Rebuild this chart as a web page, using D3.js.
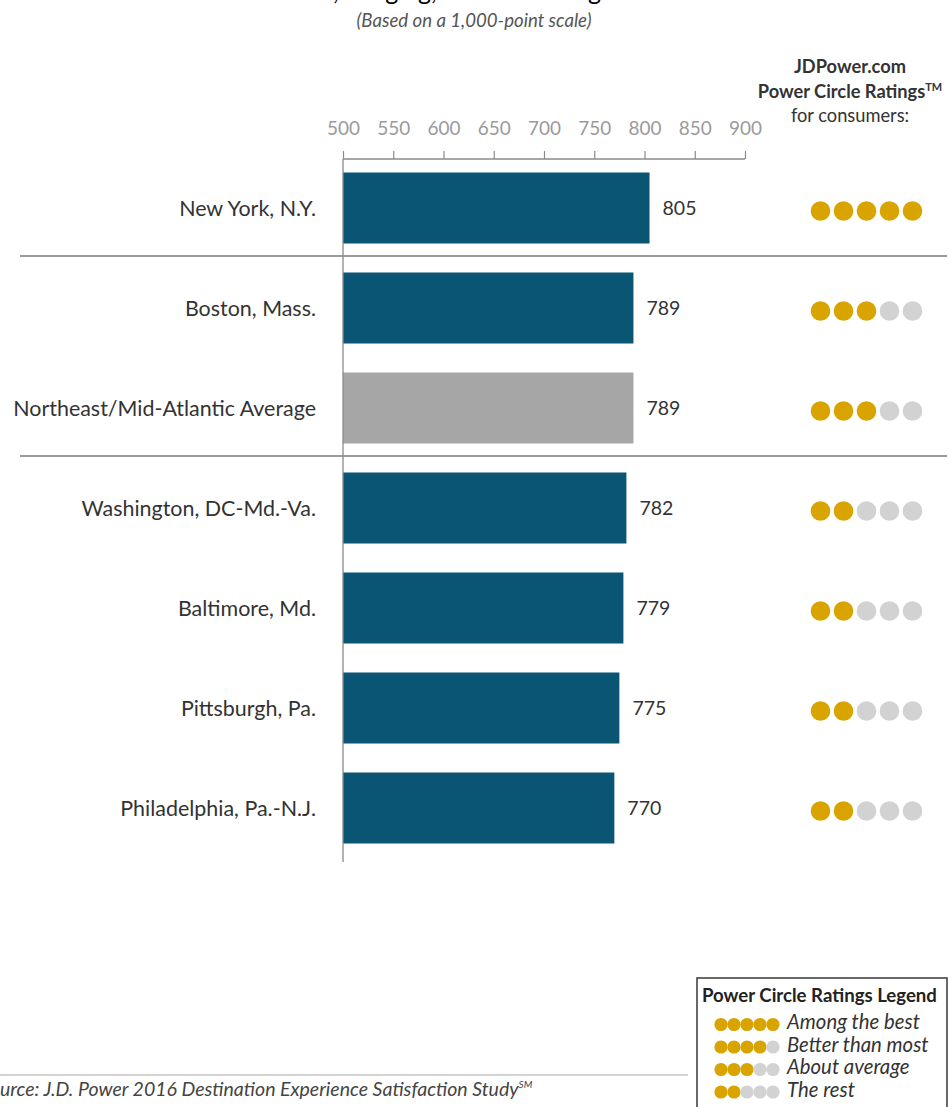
<!DOCTYPE html>
<html>
<head>
<meta charset="utf-8">
<script src="https://cdn.jsdelivr.net/npm/d3@7"></script>
<style>
  html, body { margin: 0; padding: 0; background: #fff; }
  svg { display: block; font-family: Lato, "Open Sans", sans-serif; }
</style>
</head>
<body>
<svg id="chart" width="949" height="1107"></svg>
<script>
// Destination satisfaction scores, Northeast/Mid-Atlantic
const categories = [
  "New York, N.Y.",
  "Boston, Mass.",
  "Northeast/Mid-Atlantic Average",
  "Washington, DC-Md.-Va.",
  "Baltimore, Md.",
  "Pittsburgh, Pa.",
  "Philadelphia, Pa.-N.J."
];
const scores = [805, 789, 789, 782, 779, 775, 770];
const circleRatings = [5, 3, 3, 2, 2, 2, 2];
const isAverage = [false, false, true, false, false, false, false];
const xTicks = [500, 550, 600, 650, 700, 750, 800, 850, 900];
const legendLabels = ["Among the best", "Better than most", "About average", "The rest"];
const legendRatings = [5, 4, 3, 2];

const BAR = "#0a5574", AVG = "#a6a6a6", GOLD = "#d9a300", DOT_OFF = "#d2d2d2";

const svg = d3.select("#chart");

// scale a text's font size so that the text spans the given width
function fitWidth(sel, width) {
  const node = sel.node();
  const size = parseFloat(sel.attr("font-size"));
  const len = node.getComputedTextLength();
  const s = size * width / len;
  sel.attr("font-size", s);
  return s;
}

const x = d3.scaleLinear().domain([500, 900]).range([343, 745]);
const y = d3.scaleBand().domain(categories).range([158, 858])
  .paddingInner(0.29).paddingOuter(0.145);

// title line, sitting above the top edge (only descenders show)
const titleText = "Overall Satisfaction, Lodging, Northeast Region";
const title = svg.append("text").attr("x", 0).attr("y", 0)
  .attr("font-size", 28).attr("fill", "#000").text(titleText);
{
  const n = title.node();
  const iComma = titleText.indexOf(",");
  const iG = titleText.lastIndexOf("g");
  let a = n.getSubStringLength(0, iComma);
  let b = n.getSubStringLength(0, iG);
  const size = 28 * 255 / (b - a);
  title.attr("font-size", size);
  a = n.getSubStringLength(0, iComma);
  title.attr("x", 333 - a);
}
const sub = svg.append("text").attr("x", 474).attr("y", 27).attr("text-anchor", "middle")
  .attr("font-size", 15).attr("font-style", "italic").attr("fill", "#555")
  .text("(Based on a 1,000-point scale)");
fitWidth(sub, 235);

// circle-ratings header
const hdr = svg.append("g").attr("text-anchor", "middle").attr("fill", "#333");
const h1 = hdr.append("text").attr("x", 850).attr("y", 73).attr("font-size", 16)
  .attr("font-weight", "bold").text("JDPower.com");
const hs = fitWidth(h1, 112);
const t2 = hdr.append("text").attr("x", 850).attr("y", 98).attr("font-size", hs).attr("font-weight", "bold");
t2.append("tspan").text("Power Circle Ratings");
t2.append("tspan").attr("font-size", hs * 0.6).attr("dy", -7).text("TM");
hdr.append("text").attr("x", 850).attr("y", 122).attr("font-size", hs).text("for consumers:");

// top axis
const axis = svg.append("g").attr("transform", "translate(0,159)")
  .call(d3.axisTop(x).tickValues(xTicks).tickSize(8).tickPadding(16));
axis.select(".domain").attr("stroke", "#8a8a8a").attr("stroke-width", 1.3)
  .attr("d", `M${x(500)},0H${x(900)}`);
axis.selectAll(".tick line").attr("stroke", "#8a8a8a").attr("stroke-width", 1.2);
axis.selectAll(".tick text").attr("fill", "#9a9a9a").attr("font-size", 16)
  .attr("font-family", "Lato, sans-serif");
const tickSize = fitWidth(axis.select(".tick text"), 33);
axis.selectAll(".tick text").attr("font-size", tickSize);

// group separators
[1, 3].forEach(i => {
  const yy = (y(categories[i - 1]) + y.bandwidth() + y(categories[i])) / 2 - 2;
  svg.append("line").attr("x1", 20).attr("x2", 947).attr("y1", yy).attr("y2", yy)
    .attr("stroke", "#7a7a7a").attr("stroke-width", 1.5);
});

// bars
const rows = svg.append("g").selectAll("g").data(categories).join("g");
rows.append("rect")
  .attr("x", x(500)).attr("y", d => y(d))
  .attr("width", (d, i) => x(scores[i]) - x(500))
  .attr("height", y.bandwidth())
  .attr("fill", (d, i) => isAverage[i] ? AVG : BAR);

// baseline
svg.append("line").attr("x1", x(500)).attr("x2", x(500)).attr("y1", 159).attr("y2", 862)
  .attr("stroke", "#8a8a8a").attr("stroke-width", 1.3);

// category labels
const catLabels = rows.append("text")
  .attr("x", 316).attr("y", d => y(d) + y.bandwidth() / 2 + 8)
  .attr("text-anchor", "end").attr("font-size", 20).attr("fill", "#333")
  .text(d => d);
const catSize = fitWidth(catLabels.filter((d, i) => isAverage[i]), 303);
catLabels.attr("font-size", catSize);

// value labels
const valLabels = rows.append("text")
  .attr("x", (d, i) => x(scores[i]) + 13).attr("y", d => y(d) + y.bandwidth() / 2 + 7)
  .attr("font-size", 18).attr("fill", "#333")
  .text((d, i) => scores[i]);
const valSize = fitWidth(valLabels.filter((d, i) => i === 0), 34);
valLabels.attr("font-size", valSize);

// power circles per row
const dotX = d3.scaleLinear().domain([0, 4]).range([820.5, 912.5]);
rows.each(function (d, i) {
  d3.select(this).selectAll("circle").data(d3.range(5)).join("circle")
    .attr("cx", k => dotX(k)).attr("cy", y(d) + y.bandwidth() / 2 + 3)
    .attr("r", 9.8)
    .attr("fill", k => k < circleRatings[i] ? GOLD : DOT_OFF);
});

// source note
svg.append("line").attr("x1", 0).attr("x2", 688).attr("y1", 1075).attr("y2", 1075)
  .attr("stroke", "#aaa").attr("stroke-width", 1.2);
const src = svg.append("text").attr("x", -20).attr("y", 1096).attr("font-size", 19.5)
  .attr("font-style", "italic").attr("fill", "#444");
src.append("tspan").text("Source: J.D. Power 2016 Destination Experience Satisfaction Study");
src.append("tspan").attr("font-size", 10).attr("dy", -8).text("SM");

// legend box
const lg = svg.append("g");
lg.append("rect").attr("x", 697).attr("y", 978).attr("width", 250).attr("height", 150)
  .attr("fill", "#fff").attr("stroke", "#444").attr("stroke-width", 1.6);
const lt = lg.append("text").attr("x", 702).attr("y", 1002).attr("font-size", 16).attr("font-weight", "bold")
  .attr("fill", "#222").text("Power Circle Ratings  Legend");
fitWidth(lt, 235);
const ly = d3.scaleBand().domain(legendLabels).range([1007, 1097]);
const lx = d3.scaleLinear().domain([0, 4]).range([721, 773]);
let legendSize = null;
legendLabels.forEach((lab, j) => {
  const base = ly(lab) + ly.bandwidth() - 0.5;
  lg.selectAll(null).data(d3.range(5)).join("circle")
    .attr("cx", k => lx(k)).attr("cy", base - 4.5).attr("r", 6.6)
    .attr("fill", k => k < legendRatings[j] ? GOLD : DOT_OFF);
  const t = lg.append("text").attr("x", 787).attr("y", base).attr("font-size", legendSize || 16)
    .attr("font-style", "italic").attr("fill", "#333").text(lab);
  if (j === 0) legendSize = fitWidth(t, 133);
});
</script>
</body>
</html>
